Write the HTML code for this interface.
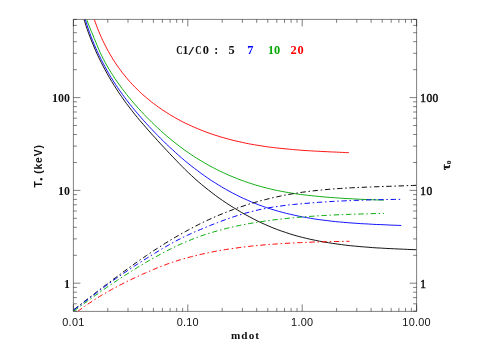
<!DOCTYPE html><html><head><meta charset="utf-8"><title>plot</title><style>html,body{margin:0;padding:0;background:#fff}svg{display:block;will-change:transform}text{font-family:"Liberation Sans",sans-serif}</style></head><body>
<svg width="490" height="350" viewBox="0 0 490 350">
<rect width="490" height="350" fill="#fff"/>
<clipPath id="c"><rect x="73.4" y="19.4" width="343.2" height="292.0"/></clipPath>
<path d="M73.4 19.4H416.6V311.4H73.4ZM73.4 311.4v-7.0M73.4 19.4v7.0M107.8 311.4v-3.5M107.8 19.4v3.5M128.0 311.4v-3.5M128.0 19.4v3.5M142.3 311.4v-3.5M142.3 19.4v3.5M153.4 311.4v-3.5M153.4 19.4v3.5M162.4 311.4v-3.5M162.4 19.4v3.5M170.1 311.4v-3.5M170.1 19.4v3.5M176.7 311.4v-3.5M176.7 19.4v3.5M182.6 311.4v-3.5M182.6 19.4v3.5M187.8 311.4v-7.0M187.8 19.4v7.0M222.2 311.4v-3.5M222.2 19.4v3.5M242.4 311.4v-3.5M242.4 19.4v3.5M256.7 311.4v-3.5M256.7 19.4v3.5M267.8 311.4v-3.5M267.8 19.4v3.5M276.8 311.4v-3.5M276.8 19.4v3.5M284.5 311.4v-3.5M284.5 19.4v3.5M291.1 311.4v-3.5M291.1 19.4v3.5M297.0 311.4v-3.5M297.0 19.4v3.5M302.2 311.4v-7.0M302.2 19.4v7.0M336.6 311.4v-3.5M336.6 19.4v3.5M356.8 311.4v-3.5M356.8 19.4v3.5M371.1 311.4v-3.5M371.1 19.4v3.5M382.2 311.4v-3.5M382.2 19.4v3.5M391.2 311.4v-3.5M391.2 19.4v3.5M398.9 311.4v-3.5M398.9 19.4v3.5M405.5 311.4v-3.5M405.5 19.4v3.5M411.4 311.4v-3.5M411.4 19.4v3.5M416.6 311.4v-7.0M416.6 19.4v7.0M73.4 311.1h3.5M416.6 311.1h-3.5M73.4 303.8h3.5M416.6 303.8h-3.5M73.4 297.6h3.5M416.6 297.6h-3.5M73.4 292.2h3.5M416.6 292.2h-3.5M73.4 287.4h3.5M416.6 287.4h-3.5M73.4 283.2h7.0M416.6 283.2h-7.0M73.4 255.3h3.5M416.6 255.3h-3.5M73.4 238.9h3.5M416.6 238.9h-3.5M73.4 227.3h3.5M416.6 227.3h-3.5M73.4 218.3h3.5M416.6 218.3h-3.5M73.4 211.0h3.5M416.6 211.0h-3.5M73.4 204.8h3.5M416.6 204.8h-3.5M73.4 199.4h3.5M416.6 199.4h-3.5M73.4 194.6h3.5M416.6 194.6h-3.5M73.4 190.4h7.0M416.6 190.4h-7.0M73.4 162.5h3.5M416.6 162.5h-3.5M73.4 146.1h3.5M416.6 146.1h-3.5M73.4 134.5h3.5M416.6 134.5h-3.5M73.4 125.5h3.5M416.6 125.5h-3.5M73.4 118.2h3.5M416.6 118.2h-3.5M73.4 112.0h3.5M416.6 112.0h-3.5M73.4 106.6h3.5M416.6 106.6h-3.5M73.4 101.8h3.5M416.6 101.8h-3.5M73.4 97.6h7.0M416.6 97.6h-7.0M73.4 69.7h3.5M416.6 69.7h-3.5M73.4 53.3h3.5M416.6 53.3h-3.5M73.4 41.7h3.5M416.6 41.7h-3.5M73.4 32.7h3.5M416.6 32.7h-3.5M73.4 25.4h3.5M416.6 25.4h-3.5M73.4 19.4h3.5M416.6 19.4h-3.5" fill="none" stroke="#000" stroke-width="0.5"/>
<g clip-path="url(#c)" fill="none" stroke-width="0.92">
<path d="M83.3 17.0 L84.6 21.2 L85.9 25.4 L87.3 29.6 L88.8 33.8 L90.4 37.9 L92.0 42.0 L93.7 46.1 L95.4 50.2 L97.2 54.2 L99.1 58.2 L101.1 62.2 L103.1 66.1 L105.2 70.0 L107.3 73.9 L109.5 77.8 L111.8 81.6 L114.1 85.3 L116.5 89.1 L118.9 92.8 L121.4 96.4 L123.9 100.0 L126.5 103.6 L129.2 107.1 L131.9 110.6 L134.6 114.1 L137.4 117.5 L140.2 120.9 L143.1 124.2 L146.0 127.6 L148.9 130.9 L151.8 134.2 L154.8 137.4 L157.7 140.7 L160.7 144.0 L163.7 147.2 L166.8 150.5 L169.8 153.7 L172.8 156.9 L175.9 160.1 L179.0 163.3 L182.1 166.5 L185.2 169.6 L188.4 172.7 L191.6 175.7 L194.9 178.7 L198.2 181.6 L201.6 184.5 L205.0 187.3 L208.4 190.0 L211.9 192.7 L215.4 195.4 L219.0 198.0 L222.6 200.5 L226.3 203.0 L230.0 205.4 L233.7 207.7 L237.5 210.0 L241.3 212.3 L245.2 214.5 L249.1 216.6 L253.0 218.7 L256.9 220.7 L260.9 222.6 L264.9 224.4 L269.0 226.2 L273.0 227.9 L277.2 229.5 L281.3 231.0 L285.5 232.4 L289.6 233.8 L293.9 235.1 L298.1 236.3 L302.4 237.4 L306.6 238.4 L310.9 239.4 L315.3 240.3 L319.6 241.2 L323.9 242.0 L328.3 242.7 L332.7 243.4 L337.1 244.0 L341.5 244.6 L345.9 245.2 L350.3 245.7 L354.7 246.1 L359.1 246.5 L363.6 246.9 L368.0 247.2 L372.4 247.6 L376.9 247.9 L381.3 248.1 L385.7 248.4 L390.1 248.6 L394.5 248.8 L398.9 249.0 L403.3 249.2 L407.7 249.4 L412.0 249.6 L416.4 249.7" stroke="#000"/>
<path d="M84.5 16.9 L85.7 20.9 L87.0 24.9 L88.3 28.9 L89.7 32.8 L91.1 36.7 L92.6 40.5 L94.2 44.3 L95.8 48.1 L97.5 51.9 L99.3 55.6 L101.1 59.3 L103.0 63.0 L104.9 66.6 L106.9 70.2 L108.9 73.8 L111.0 77.3 L113.2 80.8 L115.4 84.3 L117.7 87.7 L120.1 91.1 L122.5 94.5 L124.9 97.8 L127.4 101.1 L130.0 104.4 L132.6 107.6 L135.2 110.8 L137.9 113.9 L140.6 117.1 L143.3 120.2 L146.1 123.2 L148.9 126.3 L151.8 129.3 L154.6 132.3 L157.5 135.3 L160.4 138.2 L163.4 141.1 L166.3 144.0 L169.3 146.8 L172.4 149.6 L175.4 152.4 L178.5 155.2 L181.6 157.9 L184.7 160.6 L187.9 163.2 L191.1 165.8 L194.4 168.3 L197.7 170.8 L201.0 173.3 L204.4 175.7 L207.8 178.1 L211.2 180.4 L214.7 182.6 L218.2 184.8 L221.8 187.0 L225.4 189.1 L229.0 191.1 L232.6 193.0 L236.3 194.9 L240.0 196.8 L243.7 198.5 L247.5 200.2 L251.2 201.8 L255.1 203.4 L258.9 204.9 L262.7 206.3 L266.6 207.6 L270.5 208.9 L274.5 210.1 L278.4 211.3 L282.4 212.3 L286.4 213.4 L290.4 214.3 L294.4 215.2 L298.5 216.1 L302.5 216.9 L306.6 217.6 L310.7 218.3 L314.8 219.0 L318.9 219.6 L323.0 220.1 L327.1 220.6 L331.2 221.1 L335.4 221.6 L339.5 222.0 L343.7 222.3 L347.8 222.7 L352.0 223.0 L356.1 223.3 L360.2 223.6 L364.4 223.8 L368.5 224.0 L372.6 224.3 L376.8 224.5 L380.9 224.6 L385.0 224.8 L389.1 225.0 L393.2 225.2 L397.2 225.3 L401.3 225.5" stroke="#0000ff"/>
<path d="M86.2 17.0 L87.1 20.6 L88.4 24.2 L89.9 27.9 L91.4 31.5 L92.9 35.0 L94.3 38.6 L95.8 42.1 L97.2 45.6 L98.7 49.1 L100.2 52.5 L101.8 55.9 L103.5 59.3 L105.3 62.6 L107.1 66.0 L109.1 69.3 L111.0 72.5 L113.1 75.7 L115.2 78.9 L117.4 82.1 L119.6 85.2 L121.9 88.3 L124.2 91.3 L126.5 94.3 L128.9 97.3 L131.3 100.2 L133.8 103.1 L136.3 106.0 L138.8 108.8 L141.4 111.6 L144.0 114.4 L146.6 117.1 L149.3 119.8 L152.0 122.5 L154.8 125.2 L157.6 127.8 L160.4 130.4 L163.2 132.9 L166.1 135.5 L169.0 137.9 L172.0 140.4 L175.0 142.8 L178.0 145.1 L181.0 147.4 L184.1 149.7 L187.3 151.9 L190.4 154.1 L193.6 156.2 L196.8 158.3 L200.1 160.3 L203.3 162.2 L206.6 164.1 L210.0 166.0 L213.3 167.7 L216.7 169.5 L220.1 171.2 L223.6 172.8 L227.0 174.4 L230.5 175.9 L234.0 177.3 L237.6 178.8 L241.1 180.1 L244.7 181.4 L248.3 182.7 L251.9 183.8 L255.5 185.0 L259.2 186.0 L262.9 187.1 L266.5 188.0 L270.2 188.9 L273.9 189.8 L277.7 190.6 L281.4 191.3 L285.1 192.0 L288.9 192.7 L292.7 193.3 L296.4 193.9 L300.2 194.4 L304.0 194.9 L307.8 195.3 L311.6 195.7 L315.4 196.1 L319.2 196.5 L323.0 196.8 L326.9 197.2 L330.7 197.5 L334.5 197.7 L338.3 198.0 L342.2 198.3 L346.0 198.5 L349.8 198.7 L353.6 198.9 L357.4 199.1 L361.2 199.3 L365.0 199.5 L368.8 199.6 L372.6 199.7 L376.4 199.9 L380.2 200.0 L383.9 200.1" stroke="#00a800"/>
<path d="M93.5 17.0 L94.5 19.9 L95.5 22.9 L96.6 25.8 L97.7 28.8 L98.9 31.7 L100.1 34.6 L101.4 37.5 L102.7 40.4 L104.1 43.2 L105.5 46.0 L107.0 48.9 L108.5 51.6 L110.1 54.4 L111.7 57.1 L113.3 59.8 L115.1 62.5 L116.8 65.1 L118.6 67.7 L120.5 70.2 L122.4 72.8 L124.4 75.2 L126.4 77.7 L128.4 80.1 L130.5 82.4 L132.6 84.7 L134.8 87.0 L137.1 89.2 L139.3 91.4 L141.6 93.6 L144.0 95.7 L146.4 97.7 L148.8 99.7 L151.2 101.7 L153.7 103.6 L156.3 105.5 L158.8 107.4 L161.4 109.2 L164.0 110.9 L166.7 112.6 L169.3 114.3 L172.0 115.9 L174.7 117.5 L177.5 119.0 L180.2 120.5 L183.0 122.0 L185.8 123.4 L188.7 124.7 L191.5 126.0 L194.4 127.3 L197.3 128.5 L200.2 129.7 L203.1 130.9 L206.0 132.0 L209.0 133.1 L211.9 134.1 L214.9 135.1 L217.9 136.0 L220.9 137.0 L223.9 137.8 L227.0 138.7 L230.0 139.5 L233.1 140.3 L236.1 141.0 L239.2 141.7 L242.3 142.4 L245.4 143.1 L248.5 143.7 L251.6 144.3 L254.7 144.8 L257.8 145.3 L261.0 145.8 L264.1 146.3 L267.3 146.8 L270.4 147.2 L273.6 147.6 L276.7 147.9 L279.9 148.3 L283.0 148.6 L286.2 148.9 L289.3 149.2 L292.5 149.5 L295.7 149.8 L298.8 150.0 L302.0 150.3 L305.1 150.5 L308.3 150.7 L311.4 150.9 L314.6 151.1 L317.7 151.2 L320.9 151.4 L324.0 151.6 L327.1 151.7 L330.2 151.9 L333.4 152.0 L336.5 152.1 L339.6 152.3 L342.6 152.4 L345.7 152.6 L348.8 152.7" stroke="#ff0000"/>
<path d="M74.0 309.5 L76.9 307.3 L79.8 305.0 L82.8 302.7 L85.7 300.4 L88.7 298.2 L91.6 295.9 L94.6 293.6 L97.5 291.3 L100.5 289.0 L103.5 286.7 L106.5 284.4 L109.5 282.2 L112.5 279.9 L115.6 277.6 L118.6 275.4 L121.7 273.1 L124.7 270.9 L127.8 268.6 L130.9 266.4 L134.0 264.2 L137.1 262.0 L140.2 259.8 L143.4 257.7 L146.5 255.5 L149.7 253.4 L152.8 251.3 L156.0 249.2 L159.2 247.2 L162.4 245.1 L165.6 243.1 L168.9 241.1 L172.1 239.1 L175.4 237.2 L178.7 235.3 L182.0 233.4 L185.3 231.6 L188.6 229.8 L192.0 228.0 L195.3 226.2 L198.7 224.5 L202.1 222.8 L205.5 221.2 L208.9 219.6 L212.4 218.0 L215.8 216.5 L219.3 215.0 L222.8 213.6 L226.3 212.2 L229.8 210.8 L233.3 209.5 L236.9 208.2 L240.4 207.0 L244.0 205.8 L247.6 204.6 L251.2 203.5 L254.8 202.4 L258.4 201.4 L262.0 200.4 L265.7 199.5 L269.3 198.6 L273.0 197.7 L276.6 196.9 L280.3 196.1 L284.0 195.3 L287.7 194.6 L291.4 194.0 L295.1 193.4 L298.9 192.8 L302.6 192.2 L306.3 191.7 L310.1 191.2 L313.8 190.8 L317.6 190.4 L321.4 190.0 L325.1 189.7 L328.9 189.3 L332.7 189.0 L336.5 188.7 L340.2 188.5 L344.0 188.2 L347.8 188.0 L351.6 187.8 L355.4 187.6 L359.2 187.4 L363.0 187.3 L366.8 187.1 L370.6 187.0 L374.4 186.8 L378.2 186.7 L382.0 186.5 L385.8 186.4 L389.6 186.3 L393.4 186.2 L397.2 186.0 L401.0 185.9 L404.8 185.8 L408.6 185.6 L412.4 185.5 L416.2 185.3" stroke="#000" stroke-width="0.97" stroke-dasharray="5.4 2.7 1.5 2.7"/>
<path d="M73.9 309.9 L76.7 307.8 L79.5 305.7 L82.3 303.6 L85.1 301.4 L88.0 299.3 L90.8 297.1 L93.7 295.0 L96.5 292.8 L99.4 290.6 L102.3 288.5 L105.2 286.3 L108.1 284.2 L111.0 282.1 L113.9 280.0 L116.8 277.9 L119.8 275.9 L122.7 273.9 L125.7 271.9 L128.7 269.9 L131.7 267.9 L134.7 265.9 L137.7 264.0 L140.7 262.1 L143.7 260.1 L146.8 258.2 L149.9 256.3 L152.9 254.4 L156.0 252.5 L159.1 250.6 L162.2 248.7 L165.4 246.9 L168.5 245.1 L171.7 243.3 L174.8 241.6 L178.0 239.9 L181.2 238.3 L184.4 236.7 L187.6 235.2 L190.9 233.7 L194.1 232.2 L197.4 230.8 L200.7 229.4 L204.0 228.0 L207.3 226.7 L210.6 225.3 L213.9 224.0 L217.3 222.7 L220.6 221.4 L224.0 220.2 L227.4 218.9 L230.8 217.8 L234.2 216.6 L237.6 215.5 L241.1 214.5 L244.5 213.4 L248.0 212.5 L251.4 211.6 L254.9 210.7 L258.4 209.9 L261.9 209.2 L265.4 208.5 L268.9 207.8 L272.4 207.2 L275.9 206.7 L279.5 206.2 L283.0 205.7 L286.6 205.2 L290.1 204.8 L293.7 204.5 L297.2 204.1 L300.8 203.8 L304.4 203.5 L308.0 203.2 L311.5 202.9 L315.1 202.6 L318.7 202.3 L322.3 202.1 L325.9 201.9 L329.5 201.6 L333.1 201.4 L336.7 201.2 L340.3 201.0 L343.9 200.9 L347.5 200.7 L351.1 200.6 L354.7 200.4 L358.3 200.3 L361.9 200.2 L365.5 200.0 L369.1 199.9 L372.7 199.8 L376.3 199.7 L379.9 199.7 L383.5 199.6 L387.1 199.5 L390.7 199.5 L394.3 199.4 L397.8 199.4 L401.4 199.3" stroke="#0000ff" stroke-width="0.97" stroke-dasharray="5.4 2.7 1.5 2.7"/>
<path d="M73.9 311.0 L76.5 309.1 L79.2 307.1 L81.9 305.2 L84.6 303.2 L87.3 301.2 L90.0 299.3 L92.7 297.3 L95.4 295.4 L98.2 293.5 L100.9 291.5 L103.7 289.6 L106.4 287.7 L109.2 285.8 L112.0 283.9 L114.8 282.0 L117.6 280.1 L120.4 278.3 L123.2 276.4 L126.1 274.6 L128.9 272.8 L131.8 271.0 L134.7 269.2 L137.6 267.4 L140.4 265.7 L143.4 263.9 L146.3 262.2 L149.2 260.5 L152.2 258.8 L155.1 257.2 L158.1 255.5 L161.1 253.9 L164.0 252.3 L167.1 250.7 L170.1 249.2 L173.1 247.7 L176.1 246.2 L179.2 244.8 L182.3 243.4 L185.4 242.1 L188.5 240.8 L191.6 239.5 L194.7 238.3 L197.8 237.1 L201.0 236.0 L204.1 234.9 L207.3 233.9 L210.5 232.9 L213.7 231.9 L216.9 231.0 L220.1 230.1 L223.4 229.2 L226.6 228.4 L229.9 227.6 L233.1 226.9 L236.4 226.1 L239.7 225.4 L243.0 224.8 L246.3 224.1 L249.6 223.5 L252.9 223.0 L256.2 222.4 L259.5 221.9 L262.9 221.4 L266.2 220.9 L269.5 220.5 L272.9 220.0 L276.2 219.6 L279.6 219.2 L283.0 218.8 L286.3 218.5 L289.7 218.1 L293.1 217.8 L296.4 217.5 L299.8 217.2 L303.2 216.9 L306.6 216.7 L309.9 216.4 L313.3 216.2 L316.7 215.9 L320.1 215.7 L323.5 215.5 L326.9 215.3 L330.2 215.2 L333.6 215.0 L337.0 214.8 L340.4 214.7 L343.7 214.6 L347.1 214.4 L350.5 214.3 L353.8 214.2 L357.2 214.1 L360.6 214.0 L363.9 213.9 L367.3 213.8 L370.6 213.7 L373.9 213.6 L377.3 213.5 L380.6 213.5 L383.9 213.4" stroke="#00a800" stroke-width="0.97" stroke-dasharray="5.4 2.7 1.5 2.7"/>
<path d="M77.7 311.4 L80.0 309.7 L82.4 308.0 L84.8 306.3 L87.1 304.6 L89.5 303.0 L92.0 301.4 L94.4 299.8 L96.8 298.3 L99.3 296.7 L101.7 295.2 L104.2 293.8 L106.7 292.3 L109.2 290.9 L111.7 289.5 L114.3 288.1 L116.8 286.8 L119.3 285.4 L121.9 284.1 L124.5 282.8 L127.0 281.5 L129.6 280.3 L132.2 279.0 L134.9 277.8 L137.5 276.6 L140.1 275.3 L142.7 274.1 L145.4 273.0 L148.1 271.8 L150.7 270.6 L153.4 269.5 L156.1 268.4 L158.8 267.3 L161.5 266.2 L164.2 265.2 L166.9 264.2 L169.7 263.2 L172.4 262.3 L175.1 261.4 L177.9 260.5 L180.6 259.7 L183.4 258.9 L186.2 258.1 L189.0 257.3 L191.7 256.6 L194.5 255.9 L197.3 255.2 L200.1 254.5 L202.9 253.9 L205.7 253.3 L208.6 252.7 L211.4 252.1 L214.2 251.6 L217.1 251.0 L219.9 250.5 L222.7 250.0 L225.6 249.6 L228.4 249.1 L231.3 248.7 L234.2 248.3 L237.0 247.9 L239.9 247.5 L242.8 247.1 L245.6 246.8 L248.5 246.5 L251.4 246.1 L254.3 245.8 L257.1 245.6 L260.0 245.3 L262.9 245.0 L265.8 244.8 L268.7 244.5 L271.6 244.3 L274.5 244.1 L277.4 243.9 L280.3 243.7 L283.2 243.5 L286.1 243.3 L289.0 243.2 L291.8 243.0 L294.7 242.9 L297.6 242.7 L300.5 242.6 L303.4 242.5 L306.3 242.4 L309.2 242.2 L312.1 242.1 L315.0 242.0 L317.9 242.0 L320.8 241.9 L323.7 241.8 L326.5 241.7 L329.4 241.7 L332.3 241.6 L335.2 241.5 L338.1 241.5 L340.9 241.4 L343.8 241.4 L346.7 241.3 L349.5 241.3" stroke="#ff0000" stroke-width="0.97" stroke-dasharray="5.4 2.7 1.5 2.7"/>
</g>
<text x="73.4" y="326.2" font-size="10.9" letter-spacing="0.25" text-anchor="middle" fill="#111">0.01</text>
<text x="187.8" y="326.2" font-size="10.9" letter-spacing="0.25" text-anchor="middle" fill="#111">0.10</text>
<text x="302.2" y="326.2" font-size="10.9" letter-spacing="0.25" text-anchor="middle" fill="#111">1.00</text>
<text x="416.6" y="326.2" font-size="10.9" letter-spacing="0.25" text-anchor="middle" fill="#111">10.00</text>
<text x="64.0" y="287.7" font-size="11.9" font-weight="bold" letter-spacing="0.05" fill="#111" style="font-family:'Liberation Serif',serif">1</text>
<text x="420.3" y="287.7" font-size="11.5" letter-spacing="0.35" fill="#111" stroke="#111" stroke-width="0.5" style="font-family:'Liberation Serif',serif">1</text>
<text x="58.0" y="194.9" font-size="11.9" font-weight="bold" letter-spacing="0.05" fill="#111" style="font-family:'Liberation Serif',serif">10</text>
<text x="420.3" y="194.9" font-size="11.5" letter-spacing="0.35" fill="#111" stroke="#111" stroke-width="0.5" style="font-family:'Liberation Serif',serif">10</text>
<text x="52.0" y="102.1" font-size="11.9" font-weight="bold" letter-spacing="0.05" fill="#111" style="font-family:'Liberation Serif',serif">100</text>
<text x="420.3" y="102.1" font-size="11.5" letter-spacing="0.35" fill="#111" stroke="#111" stroke-width="0.5" style="font-family:'Liberation Serif',serif">100</text>
<text x="230.9" y="338.7" font-size="11.2" font-weight="bold" letter-spacing="1.1" fill="#111" style="font-family:'Liberation Serif',serif">mdot</text>
<g transform="translate(42.4 187.6) rotate(-90)"><text x="0" y="0" font-size="10.4" font-weight="bold" fill="#111"><tspan>T</tspan><tspan font-size="6" dy="1" dx="0.3">●</tspan><tspan dy="-1" dx="3.6" letter-spacing="0.8">(keV)</tspan></text></g>
<g transform="translate(449.7 170) rotate(-90)"><text x="0" y="0" font-size="12.3" font-weight="bold" fill="#111" stroke="#111" stroke-width="0.35" style="font-family:'Liberation Serif',serif">τ<tspan stroke-width="0.15" font-size="7.5" dy="1.5" dx="0.2">o</tspan></text></g>
<g><text transform="translate(179.5 53.8) scale(0.76 1)" text-anchor="middle" font-size="11.8" font-weight="bold" fill="#111" style="font-family:'Liberation Serif',serif">C</text><text transform="translate(185.4 53.8) scale(1 1)" text-anchor="middle" font-size="11.8" font-weight="bold" fill="#111" style="font-family:'Liberation Serif',serif">1</text><text transform="translate(191.3 54.699999999999996) scale(1.5 1)" text-anchor="middle" font-size="13" font-weight="bold" fill="#111" style="font-family:'Liberation Serif',serif">/</text><text transform="translate(198.4 53.8) scale(0.76 1)" text-anchor="middle" font-size="11.8" font-weight="bold" fill="#111" style="font-family:'Liberation Serif',serif">C</text><text transform="translate(205.9 53.8) scale(1.05 1)" text-anchor="middle" font-size="11.8" font-weight="bold" fill="#111" style="font-family:'Liberation Serif',serif">0</text><text transform="translate(216.1 53.8) scale(1 1)" text-anchor="middle" font-size="11.8" font-weight="bold" fill="#111" style="font-family:'Liberation Serif',serif">:</text><text transform="translate(231.7 53.8) scale(1.05 1)" text-anchor="middle" font-size="11.8" font-weight="bold" fill="#111" style="font-family:'Liberation Serif',serif">5</text><text transform="translate(250.3 53.8) scale(1.05 1)" text-anchor="middle" font-size="11.8" font-weight="bold" fill="#0000ff" style="font-family:'Liberation Serif',serif">7</text><text transform="translate(271.0 53.8) scale(1 1)" text-anchor="middle" font-size="11.8" font-weight="bold" fill="#00a800" style="font-family:'Liberation Serif',serif">1</text><text transform="translate(277.0 53.8) scale(1.05 1)" text-anchor="middle" font-size="11.8" font-weight="bold" fill="#00a800" style="font-family:'Liberation Serif',serif">0</text><text transform="translate(293.6 53.8) scale(1.05 1)" text-anchor="middle" font-size="11.8" font-weight="bold" fill="#ff0000" style="font-family:'Liberation Serif',serif">2</text><text transform="translate(300.5 53.8) scale(1.05 1)" text-anchor="middle" font-size="11.8" font-weight="bold" fill="#ff0000" style="font-family:'Liberation Serif',serif">0</text></g>
</svg></body></html>
